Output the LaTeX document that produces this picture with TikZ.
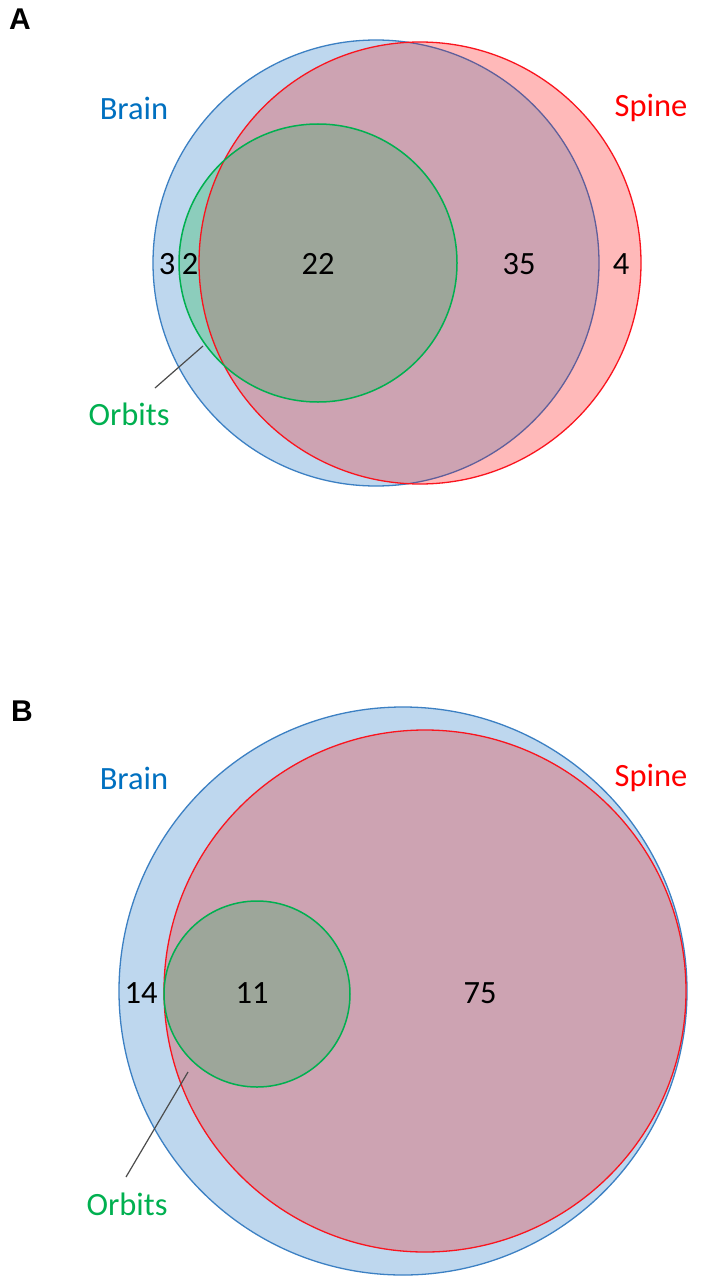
\documentclass[tikz,border=0pt]{standalone}
\usepackage{fontspec}
\setmainfont{Carlito}
\newfontfamily\panelfont{Liberation Sans}
\definecolor{brainonly}{RGB}{190,215,238}
\definecolor{spineonly}{RGB}{255,185,185}
\definecolor{bsboth}{RGB}{205,163,178}
\definecolor{boboth}{RGB}{140,205,188}
\definecolor{allthree}{RGB}{157,166,154}
\definecolor{brainline}{RGB}{60,128,195}
\definecolor{brainlinein}{RGB}{95,95,155}
\definecolor{spineline}{RGB}{250,20,30}
\definecolor{orbitline}{RGB}{0,176,80}
\definecolor{brainlab}{RGB}{0,112,192}
\definecolor{spinelab}{RGB}{255,0,0}
\definecolor{orbitlab}{RGB}{0,176,80}
\tikzset{
  lab/.style={font=\fontsize{32.5}{34}\selectfont, inner sep=0pt},
  num/.style={font=\fontsize{32.5}{34}\selectfont, inner sep=0pt, text=black},
  panel/.style={font=\panelfont\bfseries\fontsize{30}{32}\selectfont, inner sep=0pt},
  leader/.style={draw=black!70, line width=1.2pt}
}
\newcommand{\venn}[6]{%
  \fill[brainonly] (#1) circle (#2);
  \draw[brainline, line width=1.3pt] (#1) circle (#2);
  \fill[spineonly] (#3) circle (#4);
  \begin{scope}
    \clip (#1) circle (#2);
    \fill[bsboth] (#3) circle (#4);
  \end{scope}
  \begin{scope}
    \clip (#3) circle (#4);
    \draw[brainlinein, line width=1.3pt] (#1) circle (#2);
  \end{scope}
  \begin{scope}
    \clip (#5) circle (#6);
    \fill[boboth] (#5) circle (#6);
    \clip (#3) circle (#4);
    \fill[allthree] (#5) circle (#6);
  \end{scope}
  \draw[spineline, line width=1.3pt] (#3) circle (#4);
  \draw[orbitline, line width=1.5pt] (#5) circle (#6);
}
\begin{document}
\begin{tikzpicture}[x=1pt,y=-1pt]
\useasboundingbox (0,0) rectangle (709,1279);
\fill[white] (0,0) rectangle (709,1279);
% ---------- Panel A ----------
\venn{376,263}{223}{420,263}{221}{318,263}{139}
\node[panel] (pA) at (20,19) {A};
\node[lab, text=brainlab] (brainA) at (134,108) {Brain};
\node[lab, text=spinelab] (spineA) at (651,108) {Spine};
\node[num] (nA3) at (167,264) {3};
\node[num] (nA2) at (190,264) {2};
\node[num] (nA22) at (318,264) {22};
\node[num] (nA35) at (519,264) {35};
\node[num] (nA4) at (621,264) {4};
\node[lab, text=orbitlab] (orbA) at (129,414) {Orbits};
\coordinate (tipA) at (203,346);
\coordinate (footA) at (155,388);
\draw[leader] (tipA) -- (footA);
% ---------- Panel B ----------
\venn{403,991}{284}{425,991}{261}{257,994}{93}
\node[panel] (pB) at (22,711) {B};
\node[lab, text=brainlab] (brainB) at (134,778) {Brain};
\node[lab, text=spinelab] (spineB) at (651,778) {Spine};
\node[num] (nB14) at (141,993) {14};
\node[num] (nB11) at (252,993) {11};
\node[num] (nB75) at (480,993) {75};
\node[lab, text=orbitlab] (orbB) at (127,1204) {Orbits};
\coordinate (tipB) at (188,1072);
\coordinate (footB) at (126,1177);
\draw[leader] (tipB) -- (footB);
\end{tikzpicture}
\end{document}
